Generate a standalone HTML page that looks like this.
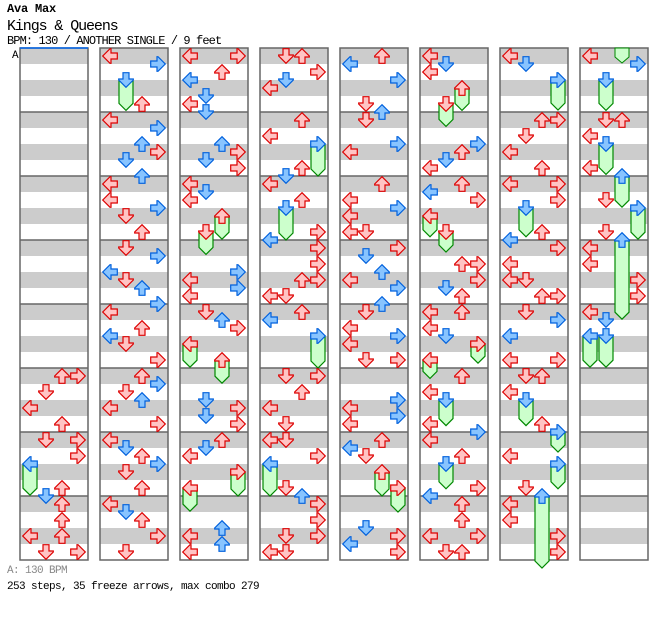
<!DOCTYPE html>
<html><head><meta charset="utf-8">
<style>
html,body{margin:0;padding:0;background:#fff;}
body{width:672px;height:620px;overflow:hidden;position:relative;font-family:"Liberation Mono",monospace;}
.t{position:absolute;left:7px;white-space:nowrap;color:#000;}
</style></head><body>
<div class="t" style="top:2px;font-size:12px;font-weight:bold;letter-spacing:-0.2px;">Ava Max</div>
<div class="t" style="top:18px;font-size:15px;letter-spacing:-1.1px;">Kings &amp; Queens</div>
<div class="t" style="top:34px;font-size:12px;letter-spacing:-0.9px;">BPM: 130 / ANOTHER SINGLE / 9 feet</div>
<div class="t" style="top:565px;font-size:11px;letter-spacing:-0.6px;color:#888;">A: 130 BPM</div>
<div class="t" style="top:581px;font-size:11px;letter-spacing:-0.6px;">253 steps, 35 freeze arrows, max combo 279</div>
<svg id="s" width="672" height="620" style="position:absolute;left:0;top:0" xmlns="http://www.w3.org/2000/svg">
<text x="12" y="58" font-family="Liberation Mono, monospace" font-size="11" fill="#000">A</text>
</svg>
<script>
var S=document.getElementById('s'),NS='http://www.w3.org/2000/svg',h='';
var arrows=[
"40U 40R 42D 44L 46U 48D 48R 50R 51L 54U 55D 56U 58U 60L 60U 62D 62R",
"0L 1R 3D 6U 8L 9R 11U 12R 13D 15U 16L 18L 19R 20D 22U 24D 25R 27L 28D 29U 31R 32L 34U 35L 36D 38R 40U 41R 42D 43U 44L 46R 48L 49D 50U 51R 52D 54U 56L 57D 58U 60R 62D",
"0L 0R 2U 3L 5D 6L 7D 11U 12R 13D 14R 16L 17D 18L 20U 22D 27R 28L 29R 30L 32D 33U 34R 36L 38U 43D 44R 45D 46R 48U 49D 50L 52R 54L 59U 60L 61U 62L",
"0D 0U 2R 3D 4L 8U 10L 11R 14U 15D 16L 18U 19D 22R 23L 24R 26R 28U 28R 30L 30D 32U 33L 35R 40D 40R 42U 44L 46D 48L 48D 50R 51L 54D 55U 56R 58R 60D 60R 62L 62D",
"0U 1L 3R 6D 7U 8D 11R 12L 16U 18L 19R 20L 22L 22D 24R 25D 27U 28L 29R 31U 32D 34L 35R 36L 38D 38R 43R 44L 45R 46L 48U 49L 50D 52U 54R 59D 60R 61L 62R",
"0L 1D 2L 4U 6D 11R 12U 13D 14L 16U 17L 18R 20L 22D 26U 26R 28R 29D 30U 32L 32U 34L 35D 36R 38L 40U 42L 43D 46L 47R 48L 50U 51D 54R 55L 56U 58U 60L 60R 62D 62U",
"0L 1D 3R 8U 8R 10D 12L 14U 16L 16R 18R 19D 22U 23L 24R 26L 28L 28D 30U 30R 32D 33R 35L 38L 38R 40D 40U 42L 43D 46U 47R 50L 51R 54D 55U 56L 58L 60R 62R",
"0L 1R 3D 8D 8U 10L 11D 14L 15U 18D 19R 22D 23U 24L 26L 28R 30R 32L 33D 35L 35D"
];
var freezes=[
[[0,51,55.9]],
[[1,3,7.8]],
[[2,20,23.9],[1,22,25.8],[0,36,39.9],[2,38,41.9],[3,52,56],[0,54,57.9]],
[[3,11,16],[1,19,24],[3,35,40],[0,51,56]],
[[2,52,56],[3,54,58]],
[[2,4,7.8],[1,6,9.8],[0,20,23.6],[1,22,25.5],[3,36,39.4],[0,38,41.3],[1,43,47.2],[1,51,55.1]],
[[3,3,7.75],[1,19,23.6],[1,43,47.2],[3,47,50.5],[3,51,55.1],[2,55,65]],
[[1,3,7.8],[1,11,15.8],[2,15,19.9],[3,19,23.9],[2,23,33.9],[0,35,39.9],[1,35,39.9]]
];
var LN={L:0,D:1,U:2,R:3},ROT=[-90,180,0,90];
for(var c=0;c<8;c++){
 var x0=20+80*c;
 for(var m=0;m<8;m++){for(var b=0;b<4;b++){h+='<rect x="'+x0+'" y="'+(48+m*64+b*16)+'" width="68" height="16" fill="'+(b%2==0?'#cccccc':'#ffffff')+'"/>';}}
 for(var m=1;m<8;m++)h+='<line x1="'+x0+'" x2="'+(x0+68)+'" y1="'+(48+m*64)+'" y2="'+(48+m*64)+'" stroke="#666" stroke-width="1.5"/>';
 h+='<rect x="'+x0+'" y="48" width="68" height="512" fill="none" stroke="#666" stroke-width="1.5"/>';
}
h+='<line x1="20" x2="88" y1="48" y2="48" stroke="#0066ee" stroke-width="1.5"/>';
h+='<polygon points="615,48 629,48 629,57 622,63 615,57" fill="#ccffcc" stroke="#008800"/>';
for(var c=0;c<8;c++){
 var x0=20+80*c;
 freezes[c].forEach(function(f){
  var lx=x0+2+16*f[0],ys=48+8*f[1]+8,ye=48+8*f[2];
  h+='<polygon points="'+(lx+1)+','+ys+' '+(lx+15)+','+ys+' '+(lx+15)+','+(ye-7)+' '+(lx+8)+','+ye+' '+(lx+1)+','+(ye-7)+'" fill="#ccffcc" stroke="#008800" stroke-width="1.2"/>';
 });
 arrows[c].split(' ').forEach(function(a){
  var t=parseInt(a),l=LN[a.slice(-1)],lx=x0+2+16*l,y=48+8*t;
  var blue=t%2==1;
  h+='<g transform="translate('+lx+','+y+') rotate('+ROT[l]+' 8 8)"><path d="M8,0.7 L15.3,8 L15.3,9 L11,9 L11,15.3 L5,15.3 L5,9 L0.7,9 L0.7,8 Z" fill="'+(blue?'#88c4ff':'#ffc4c4')+'" stroke="'+(blue?'#0060dd':'#dd0000')+'" stroke-width="1.2" stroke-linejoin="miter"/></g>';
 });
}
S.insertAdjacentHTML('beforeend',h);
</script>
</body></html>
